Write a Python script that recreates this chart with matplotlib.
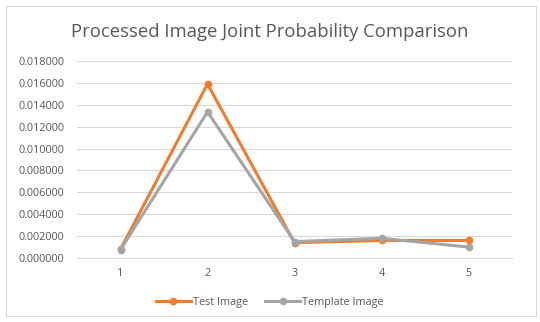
import matplotlib.pyplot as plt
from matplotlib.patches import Rectangle

categories = ['1', '2', '3', '4', '5']
test_image = [0.00080, 0.01590, 0.00140, 0.00160, 0.00160]
template_image = [0.00075, 0.01335, 0.00150, 0.00180, 0.00100]
y_ticks = [0.000, 0.002, 0.004, 0.006, 0.008, 0.010, 0.012, 0.014, 0.016, 0.018]

plt.rcParams['font.family'] = ['Open Sans', 'DejaVu Sans']

fig = plt.figure(figsize=(5.4, 3.22), dpi=100)
ax = fig.add_axes([77 / 540, 1 - 258 / 322, 435 / 540, 197 / 322])

# outer chart border
fig.patches.append(Rectangle((6 / 540, 6 / 322), 530 / 540, 310 / 322,
                             transform=fig.transFigure, fill=False,
                             edgecolor='#d9d9d9', linewidth=0.8))

x = range(len(categories))
ax.plot(x, test_image, '-o', color='#ED7D31', lw=2.2, markersize=4.5,
        label='Test Image', zorder=3)
ax.plot(x, template_image, '-o', color='#A5A5A5', lw=2.2, markersize=4.5,
        label='Template Image', zorder=3)

ax.set_xlim(-0.5, len(categories) - 0.5)
ax.set_ylim(0, 0.018)
ax.set_xticks(list(x))
ax.set_xticklabels(categories)
ax.set_yticks(y_ticks)
ax.set_yticklabels([f'{v:.6f}' for v in y_ticks])
ax.grid(axis='y', color='#d9d9d9', lw=0.8)
ax.set_axisbelow(True)
for s in ['top', 'right', 'left']:
    ax.spines[s].set_visible(False)
ax.spines['bottom'].set_color('#d9d9d9')
ax.tick_params(axis='both', length=0, labelsize=7.8, labelcolor='#595959')
ax.tick_params(axis='x', pad=7)
ax.tick_params(axis='y', pad=9)

fig.text(0.5, 1 - 32 / 322, 'Processed Image Joint Probability Comparison',
         ha='center', va='center', fontsize=13.3, color='#595959')

fig.legend(loc='center', bbox_to_anchor=(0.5, 1 - 302 / 322), ncol=2,
           frameon=False, fontsize=7.8, labelcolor='#595959',
           handlelength=3.2, columnspacing=1.6, handletextpad=0.2)

fig.savefig('out.png', dpi=100)
